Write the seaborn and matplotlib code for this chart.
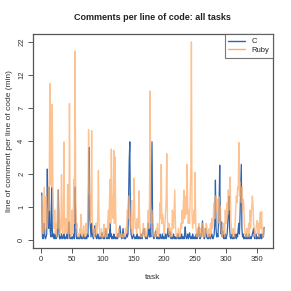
import numpy as np
import pandas as pd
import matplotlib
matplotlib.use("Agg")
import matplotlib.pyplot as plt
import seaborn as sns

# comments per line of code, one value per task (1..362)
ruby = [
    1.0, 0.3, 0.1, 0.6, 1.3, 0.2, 0.1, 1.0, 0.4, 0.2,
    0.5, 1.3, 0.6, 10.8, 1.4, 6.5, 1.3, 7.5, 1.3, 0.6,
    0.2, 0.6, 0.1, 0.3, 0.05, 0.4, 1.2, 0.2, 0.6, 0.3,
    0.1, 0.2, 1.8, 0.3, 0.1, 0.4, 3.7, 0.2, 0.1, 0.4,
    0.2, 0.1, 1.4, 0.3, 0.1, 7.6, 0.2, 0.05, 0.1, 0.6,
    0.1, 0.2, 1.6, 0.3, 18.7, 1.5, 0.2, 0.3, 0.1, 0.05,
    0.1, 0.05, 0.2, 0.1, 0.5, 0.1, 0.05, 0.1, 0.25, 0.1,
    0.05, 0.1, 0.3, 0.1, 0.2, 0.6, 4.7, 1.2, 1.0, 0.3,
    0.6, 4.6, 0.4, 0.2, 0.1, 0.05, 0.2, 0.1, 0.3, 0.1,
    0.2, 0.5, 2.0, 0.3, 0.1, 0.05, 0.1, 0.2, 0.05, 0.1,
    0.05, 0.28, 0.1, 0.05, 0.2, 0.1, 0.05, 0.3, 0.6, 0.2,
    0.9, 1.6, 0.3, 3.2, 0.5, 1.0, 0.4, 3.1, 0.3, 2.7,
    0.6, 0.1, 0.05, 0.1, 0.05, 0.2, 0.1, 0.05, 0.1, 0.05,
    0.1, 0.05, 0.1, 0.05, 0.1, 0.05, 0.2, 0.1, 0.3, 0.6,
    0.4, 1.0, 0.5, 0.4, 0.2, 0.6, 0.86, 0.3, 0.1, 0.4,
    1.65, 0.5, 0.2, 0.3, 0.1, 0.4, 0.2, 0.5, 1.17, 0.3,
    0.1, 0.05, 0.1, 0.05, 0.1, 0.3, 0.1, 0.05, 0.2, 0.1,
    0.05, 0.1, 0.3, 0.6, 0.2, 1.0, 9.5, 0.8, 0.3, 0.6,
    0.4, 0.2, 0.1, 0.05, 0.1, 0.05, 0.2, 0.1, 0.3, 0.1,
    0.05, 0.2, 0.8, 0.4, 2.3, 0.3, 0.5, 0.43, 0.2, 0.1,
    0.3, 0.6, 0.9, 2.9, 0.4, 0.2, 0.1, 0.3, 0.05, 0.1,
    0.2, 0.05, 0.6, 0.5, 0.2, 0.6, 1.2, 0.3, 0.1, 0.05,
    0.1, 0.05, 0.2, 0.1, 0.05, 0.1, 0.3, 0.2, 0.6, 0.3,
    0.8, 1.2, 0.4, 0.6, 1.0, 0.5, 2.3, 0.7, 0.3, 0.6,
    0.3, 1.0, 2.0, 21.7, 0.5, 0.2, 0.4, 0.6, 0.3, 1.9,
    0.3, 0.1, 0.05, 0.2, 0.1, 0.3, 0.05, 0.1, 0.2, 0.05,
    0.1, 0.3, 0.05, 0.1, 0.2, 0.05, 0.1, 0.3, 0.25, 0.1,
    0.05, 0.1, 0.2, 0.05, 0.3, 0.1, 0.4, 0.2, 0.25, 0.6,
    0.8, 0.4, 1.0, 1.0, 0.6, 0.9, 0.3, 0.5, 0.98, 0.4,
    0.7, 0.2, 0.1, 0.05, 0.2, 0.1, 0.3, 0.05, 0.6, 0.3,
    0.4, 0.8, 0.5, 1.2, 0.6, 1.0, 1.7, 0.4, 0.2, 0.1,
    0.05, 0.2, 0.1, 0.05, 0.3, 0.6, 1.0, 0.8, 1.3, 1.2,
    3.65, 1.0, 1.5, 1.2, 0.8, 1.3, 0.6, 0.9, 0.76, 0.3,
    0.1, 0.05, 0.1, 0.2, 0.05, 0.1, 0.3, 0.05, 0.6, 0.2,
    0.4, 0.7, 1.0, 0.73, 0.3, 0.2, 0.1, 0.05, 0.2, 0.3,
    0.36, 0.1, 0.3, 0.05, 0.4, 0.55, 0.2, 0.56, 0.1, 0.05,
    0.1, 0.2,
]

c_lang = [
    1.1, 0.05, 0.02, 0.1, 0.3, 0.05, 0.02, 0.05, 0.1, 2.06,
    0.4, 0.2, 1.3, 0.3, 0.1, 0.05, 1.3, 0.2, 0.05, 0.1,
    0.02, 0.05, 0.1, 0.02, 0.05, 0.05, 0.3, 1.2, 0.1, 0.02,
    0.05, 0.02, 0.1, 0.05, 0.02, 0.05, 0.1, 0.02, 0.05, 0.02,
    0.05, 0.1, 0.02, 0.15, 0.33, 0.1, 0.02, 0.05, 0.02, 0.05,
    0.02, 0.05, 0.1, 0.02, 1.3, 0.4, 0.05, 0.02, 0.05, 0.02,
    0.05, 0.02, 0.05, 0.1, 0.02, 0.05, 0.02, 0.05, 0.1, 0.02,
    0.05, 0.02, 0.05, 0.02, 0.1, 0.05, 1.3, 3.3, 0.4, 0.2,
    0.05, 0.3, 0.1, 0.05, 0.02, 0.15, 0.25, 0.16, 0.05, 0.02,
    0.05, 0.1, 0.02, 0.05, 0.02, 0.05, 0.02, 0.1, 0.12, 0.05,
    0.02, 0.05, 0.02, 0.1, 0.2, 0.05, 0.02, 0.05, 0.1, 0.02,
    0.05, 0.3, 0.05, 0.1, 0.02, 0.05, 0.02, 0.1, 0.05, 0.02,
    0.05, 0.02, 0.05, 0.02, 0.1, 0.05, 0.15, 0.25, 0.1, 0.05,
    0.02, 0.1, 0.2, 0.05, 0.02, 0.05, 0.02, 0.05, 0.1, 0.05,
    0.1, 1.0, 2.5, 3.7, 0.3, 0.1, 0.05, 0.02, 0.05, 0.1,
    0.05, 0.02, 0.05, 0.02, 0.05, 0.1, 0.02, 0.05, 0.02, 0.05,
    0.02, 0.1, 0.05, 0.02, 0.1, 0.15, 0.2, 0.1, 0.05, 0.02,
    0.05, 0.02, 0.05, 0.3, 0.1, 0.05, 0.2, 0.05, 1.3, 3.7,
    0.3, 0.05, 0.02, 0.05, 0.1, 0.15, 0.05, 0.02, 0.05, 0.02,
    0.05, 0.02, 0.1, 0.05, 0.02, 0.05, 0.1, 0.02, 0.05, 0.02,
    0.05, 0.1, 0.02, 0.05, 0.1, 0.2, 0.05, 0.15, 0.05, 0.13,
    0.02, 0.05, 0.02, 0.05, 0.1, 0.02, 0.05, 0.02, 0.05, 0.02,
    0.05, 0.1, 0.02, 0.05, 0.02, 0.05, 0.02, 0.1, 0.05, 0.02,
    0.05, 0.02, 0.1, 0.23, 0.05, 0.02, 0.05, 0.1, 0.02, 0.05,
    0.12, 0.05, 0.02, 0.05, 0.02, 0.1, 0.05, 0.02, 0.05, 0.02,
    0.05, 0.1, 0.02, 0.05, 0.15, 0.23, 0.05, 0.02, 0.1, 0.05,
    0.2, 0.35, 0.1, 0.05, 0.02, 0.05, 0.2, 0.1, 0.05, 0.02,
    0.05, 0.02, 0.1, 0.05, 0.02, 0.05, 0.1, 0.05, 0.02, 0.05,
    0.1, 0.3, 1.57, 0.2, 0.05, 0.1, 0.05, 0.3, 0.8, 2.25,
    0.3, 0.1, 0.33, 0.05, 0.15, 0.05, 0.02, 0.05, 0.1, 0.02,
    0.05, 0.1, 0.3, 0.5, 1.0, 0.2, 0.05, 0.02, 0.05, 0.1,
    0.02, 0.05, 0.02, 0.05, 0.1, 0.05, 0.02, 0.1, 0.05, 0.2,
    0.3, 0.1, 0.5, 1.2, 2.3, 0.2, 0.05, 0.1, 0.02, 0.05,
    0.02, 0.05, 0.1, 0.02, 0.05, 0.02, 0.05, 0.1, 0.02, 0.05,
    0.02, 0.05, 0.1, 0.15, 0.2, 0.05, 0.02, 0.05, 0.1, 0.02,
    0.05, 0.02, 0.05, 0.1, 0.02, 0.05, 0.1, 0.02, 0.05, 0.1,
    0.05, 0.22,
]

tasks = list(range(1, len(ruby) + 1))
y_tick_labels = ["0", "1", "2", "4", "7", "12", "22"]

df = pd.DataFrame({"task": tasks, "C": c_lang, "Ruby": ruby})

sns.set_style("white")
plt.rcParams["font.family"] = ["Liberation Sans", "DejaVu Sans"]

fig = plt.figure(figsize=(2.91, 2.91), dpi=100)
ax = fig.add_axes([0.113, 0.148, 0.825, 0.735])

# y axis on a log(1 + x) scale, like the original
ax.set_yscale("function", functions=(np.log1p, np.expm1))

sns.lineplot(data=df, x="task", y="C", color="#2f64b0", linewidth=0.9, label="C", ax=ax)
sns.lineplot(data=df, x="task", y="Ruby", color="#fdae6b", alpha=0.75, linewidth=1.0,
             label="Ruby", ax=ax)

top = np.log1p(max(ruby))
pad = 0.04 * top
ax.set_ylim(np.expm1(-pad), np.expm1(top + pad))
ticks = np.expm1(np.linspace(0, top, len(y_tick_labels)))
ax.set_yticks(ticks)
ax.set_yticklabels(y_tick_labels, rotation=90, va="center")
ax.yaxis.set_minor_locator(matplotlib.ticker.NullLocator())

xr = tasks[-1] - tasks[0]
ax.set_xlim(tasks[0] - 0.04 * xr, tasks[-1] + 0.04 * xr)
ax.set_xticks(range(0, 351, 50))

for s in ax.spines.values():
    s.set_color("#555555")
    s.set_linewidth(0.9)
ax.tick_params(axis="both", direction="out", length=3.5, width=0.7, color="#555555",
               labelsize=5.5, labelcolor="#333333", pad=2, left=True, bottom=True)

ax.set_xlabel("task", fontsize=6, color="#333333", labelpad=8)
ax.set_ylabel("line of comment per line of code (min)", fontsize=6, color="#333333", labelpad=4)
ax.set_title("Comments per line of code: all tasks", fontsize=6.5, fontweight="bold",
             color="#222222", pad=10)

leg = ax.legend(loc="upper right", fontsize=5.5, frameon=True, fancybox=False,
                handlelength=2.2, borderaxespad=0, borderpad=0.5, labelspacing=0.2)
leg.get_frame().set_edgecolor("#555555")
leg.get_frame().set_linewidth(0.8)
for line in leg.get_lines():
    line.set_alpha(1)
    line.set_linewidth(1.0)

fig.savefig("out.png", dpi=100)
